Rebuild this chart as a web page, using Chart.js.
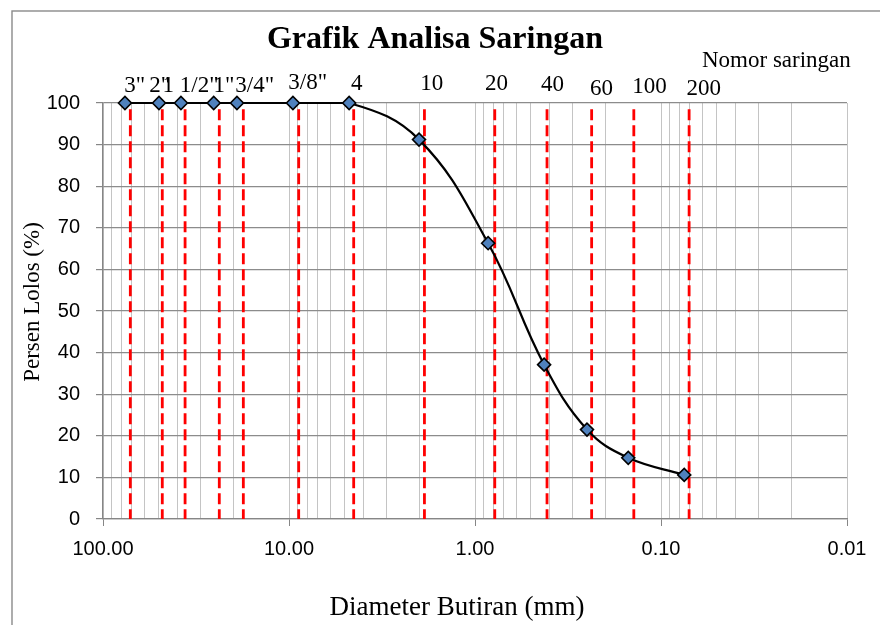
<!DOCTYPE html>
<html>
<head>
<meta charset="utf-8">
<script src="https://cdn.jsdelivr.net/npm/chart.js@4.4.1/dist/chart.umd.min.js"></script>
<style>
html,body{margin:0;padding:0;background:#fff;}
#wrap{width:880px;height:625px;position:relative;}
canvas{display:block;}
</style>
</head>
<body>
<div id="wrap"><canvas id="c" width="880" height="625" style="width:880px;height:625px"></canvas></div>
<script>
// ---- data ----
const sieveNames = ['3"', '2"', '1 1/2"', '1"', '3/4"', '3/8"', '4', '10', '20', '40', '60', '100', '200'];
const diameterMm = [76.2, 50.0, 38.1, 25.4, 19.05, 9.525, 4.75, 2.0, 0.85, 0.425, 0.25, 0.15, 0.075];
const percentPassing = [100, 100, 100, 100, 100, 100, 100, 91.2, 66.3, 37.1, 21.5, 14.7, 10.6];
const sieveLineMm = [71.3, 48.0, 36.2, 23.7, 17.6, 8.87, 4.49, 1.87, 0.783, 0.410, 0.236, 0.140, 0.0706];
const sieveLineTop = 98.5;
const sieveLabelMm = [67.5, 49.6, 33.8, 22.4, 15.3, 7.93, 4.32, 1.71, 0.766, 0.383, 0.209, 0.1153, 0.0589];
const xDecades = [100, 10, 1, 0.1, 0.01];
const xTickLabels = ['100.00', '10.00', '1.00', '0.10', '0.01'];
const yMin = 0, yMax = 100, yStep = 10;
const titleText = 'Grafik Analisa Saringan';
const sieveHeader = 'Nomor saringan';
const xTitle = 'Diameter Butiran (mm)';
const yTitle = 'Persen Lolos (%)';

// ---- layout / style ----
const SERIF = '"Liberation Serif", "Times New Roman", serif';
const SANS = '"Liberation Sans", Arial, sans-serif';
const labelRise = [11, 11, 11, 11, 11, 14, 13, 13, 13, 12, 8.5, 10, 8.5];

const curveData = diameterMm.map((d, i) => ({ x: d, y: percentPassing[i] }));

const redLineSets = sieveLineMm.map(v => ({
  type: 'line',
  data: [{ x: v, y: sieveLineTop }, { x: v, y: yMin }],
  borderColor: '#FF0000',
  borderWidth: 2.8,
  borderDash: [11, 5],
  pointRadius: 0,
  tension: 0,
  order: 2,
  clip: false
}));

const isDecade = v => xDecades.some(d => Math.abs(Math.log10(v) - Math.log10(d)) < 1e-6);

const decorPlugin = {
  id: 'decor',
  beforeDraw(chart) {
    const ctx = chart.ctx;
    ctx.save();
    ctx.fillStyle = '#ffffff';
    ctx.fillRect(0, 0, chart.width, chart.height);
    ctx.strokeStyle = '#8a8a8a';
    ctx.lineWidth = 1.4;
    ctx.strokeRect(12, 11, chart.width + 20, chart.height + 20);
    ctx.restore();
  },
  afterDraw(chart) {
    const ctx = chart.ctx;
    const xs = chart.scales.x;
    const area = chart.chartArea;
    ctx.save();
    ctx.fillStyle = '#000';
    // title
    ctx.font = 'bold 32px ' + SERIF;
    ctx.textAlign = 'center';
    ctx.textBaseline = 'alphabetic';
    ctx.fillText(titleText, 435, 48);
    // sieve header
    ctx.font = '23px ' + SERIF;
    ctx.textAlign = 'left';
    ctx.fillText(sieveHeader, 702, 67);
    // sieve labels
    ctx.textAlign = 'center';
    sieveNames.forEach((n, i) => {
      ctx.fillText(n, xs.getPixelForValue(sieveLabelMm[i]), area.top - labelRise[i]);
    });
    // x title
    ctx.font = '27px ' + SERIF;
    ctx.fillText(xTitle, 457, 615);
    // y title
    ctx.font = '23px ' + SERIF;
    ctx.translate(39, (area.top + area.bottom) / 2 - 9);
    ctx.rotate(-Math.PI / 2);
    ctx.textAlign = 'center';
    ctx.fillText(yTitle, 0, 0);
    ctx.restore();
  }
};

new Chart(document.getElementById('c'), {
  type: 'line',
  data: {
    datasets: [
      {
        data: curveData,
        borderColor: '#000000',
        borderWidth: 2.2,
        tension: 0.4,
        pointStyle: 'rectRot',
        pointRadius: 6.5,
        pointHoverRadius: 6.5,
        pointBackgroundColor: '#4F81BD',
        pointBorderColor: '#000000',
        pointBorderWidth: 1.6,
        order: 0,
        clip: false
      },
      ...redLineSets
    ]
  },
  options: {
    responsive: false,
    maintainAspectRatio: false,
    devicePixelRatio: 1,
    animation: false,
    events: [],
    layout: { padding: { top: 103, right: 33, left: 0, bottom: 0 } },
    plugins: { legend: { display: false }, title: { display: false }, tooltip: { enabled: false } },
    scales: {
      x: {
        type: 'logarithmic',
        reverse: true,
        min: xDecades[xDecades.length - 1],
        max: xDecades[0],
        afterBuildTicks(scale) {
          const t = [];
          for (let e = -2; e <= 1; e++) {
            for (let m = 1; m <= 9; m++) t.push({ value: m * Math.pow(10, e) });
          }
          t.push({ value: xDecades[0] });
          scale.ticks = t;
        },
        afterFit(scale) { scale.height = 106; },
        ticks: {
          autoSkip: false,
          maxRotation: 0,
          minRotation: 0,
          padding: 11,
          color: '#000',
          font: { family: SANS, size: 20 },
          callback(value) {
            const i = xDecades.findIndex(d => Math.abs(Math.log10(value) - Math.log10(d)) < 1e-6);
            return i >= 0 ? xTickLabels[i] : '';
          }
        },
        grid: {
          color: '#C4C4C4',
          lineWidth: 1,
          tickLength: 7,
          tickColor: c => (c.tick && isDecade(c.tick.value)) ? '#868686' : 'rgba(0,0,0,0)'
        },
        border: { color: '#868686', width: 1.3 }
      },
      y: {
        type: 'linear',
        min: yMin,
        max: yMax,
        afterFit(scale) { scale.width = 103; },
        ticks: {
          stepSize: yStep,
          padding: 16,
          color: '#000',
          font: { family: SANS, size: 20 }
        },
        grid: { color: '#8C8C8C', lineWidth: 1.2, tickLength: 7, tickColor: '#868686' },
        border: { color: '#868686', width: 1.3 }
      }
    }
  },
  plugins: [decorPlugin]
});
</script>
</body>
</html>
